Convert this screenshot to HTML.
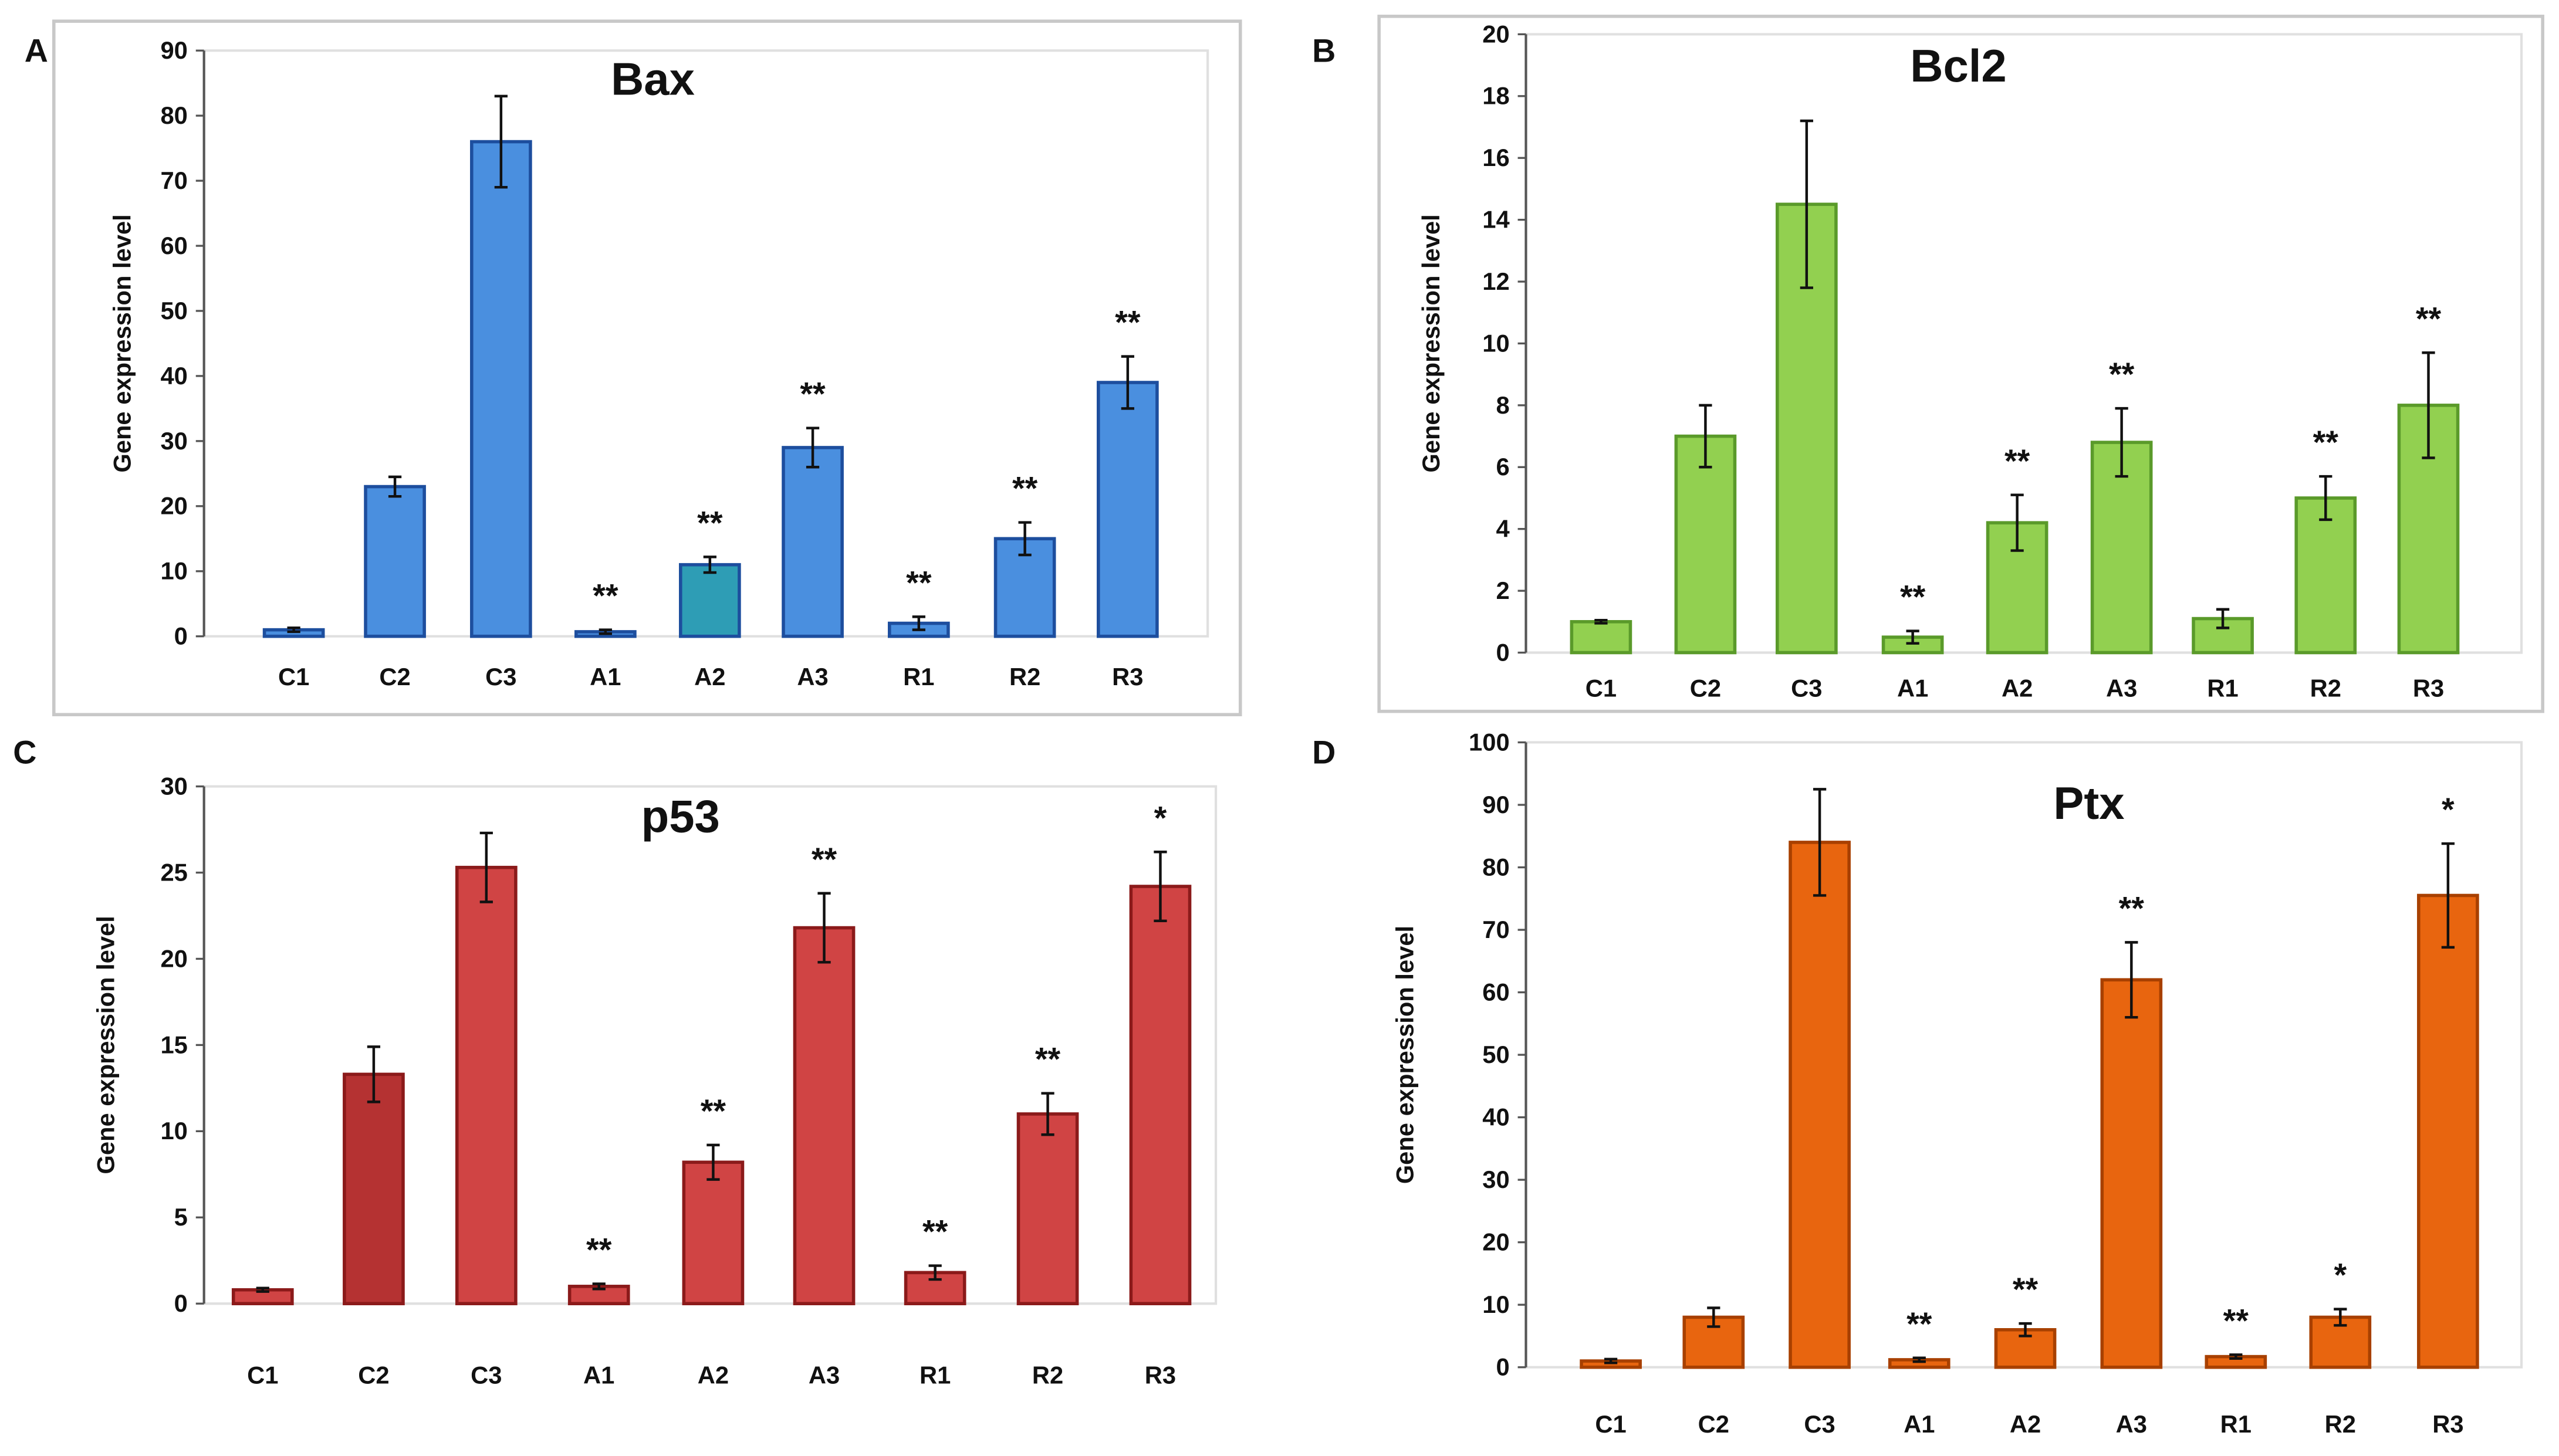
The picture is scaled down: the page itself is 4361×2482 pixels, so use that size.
<!DOCTYPE html>
<html><head><meta charset="utf-8"><style>
html,body{margin:0;padding:0;background:#fff}
svg{display:block}
text{font-family:"Liberation Sans",sans-serif;font-weight:bold;fill:#111}
</style></head><body>
<svg id="fig" width="4361" height="2482" viewBox="0 0 1568 892.4" preserveAspectRatio="none" xmlns="http://www.w3.org/2000/svg">
<rect x="33" y="13" width="727" height="425" fill="none" stroke="#c8c8c8" stroke-width="2"/>
<rect x="845" y="10" width="713" height="426" fill="none" stroke="#c8c8c8" stroke-width="2"/>
</svg>
<script>
const categories = ["C1","C2","C3","A1","A2","A3","R1","R2","R3"];
const baxValues = [1,23,76,0.7,11,29,2,15,39];
const baxErrors = [0.3,1.5,7,0.3,1.2,3,1,2.5,4];
const baxSig = ["","","","**","**","**","**","**","**"];
const bcl2Values = [1,7,14.5,0.5,4.2,6.8,1.1,5,8];
const bcl2Errors = [0.05,1,2.7,0.2,0.9,1.1,0.3,0.7,1.7];
const bcl2Sig = ["","","","**","**","**","","**","**"];
const p53Values = [0.8,13.3,25.3,1,8.2,21.8,1.8,11,24.2];
const p53Errors = [0.1,1.6,2,0.15,1,2,0.4,1.2,2];
const p53Sig = ["","","","**","**","**","**","**","*"];
const ptxValues = [1,8,84,1.2,6,62,1.7,8,75.5];
const ptxErrors = [0.3,1.5,8.5,0.3,1,6,0.3,1.3,8.3];
const ptxSig = ["","","","**","**","**","**","*","*"];
const baxTicks = [0,10,20,30,40,50,60,70,80,90];
const bcl2Ticks = [0,2,4,6,8,10,12,14,16,18,20];
const p53Ticks = [0,5,10,15,20,25,30];
const ptxTicks = [0,10,20,30,40,50,60,70,80,90,100];

const NS="http://www.w3.org/2000/svg";
const svg=document.getElementById('fig');
function mk(tag,attrs,parent){const e=document.createElementNS(NS,tag);for(const k in attrs)e.setAttribute(k,attrs[k]);(parent||svg).appendChild(e);return e;}

const panels=[
 {id:"a",letter:"A",lx:15,ly:38,title:"Bax",tx:400,ty:58,ax:125,right:740,top:31,y0:390,ymax:90,ticks:baxTicks,vals:baxValues,errs:baxErrors,sig:baxSig,
  centers:[180,242,307,371,435,498,563,628,691],labY:420,fill:"#4a8fdf",stroke:"#1d4e9e",special:{4:"#2e9db5"},ytitleX:80},
 {id:"b",letter:"B",lx:804,ly:38,title:"Bcl2",tx:1200,ty:50,ax:935,right:1545,top:21,y0:400,ymax:20,ticks:bcl2Ticks,vals:bcl2Values,errs:bcl2Errors,sig:bcl2Sig,
  centers:[981,1045,1107,1172,1236,1300,1362,1425,1488],labY:427,fill:"#92d050",stroke:"#5a9a2a",special:{},ytitleX:882},
 {id:"c",letter:"C",lx:8,ly:468,title:"p53",tx:417,ty:510,ax:125,right:745,top:482,y0:799,ymax:30,ticks:p53Ticks,vals:p53Values,errs:p53Errors,sig:p53Sig,
  centers:[161,229,298,367,437,505,573,642,711],labY:848,fill:"#d04444",stroke:"#8b1a1a",special:{1:"#b53232"},ytitleX:70},
 {id:"d",letter:"D",lx:804,ly:468,title:"Ptx",tx:1280,ty:502,ax:935,right:1545,top:455,y0:838,ymax:100,ticks:ptxTicks,vals:ptxValues,errs:ptxErrors,sig:ptxSig,
  centers:[987,1050,1115,1176,1241,1306,1370,1434,1500],labY:878,fill:"#e8650f",stroke:"#a84000",special:{},ytitleX:866}
];

panels.forEach(p=>{
 const g=mk('g',{});
 
 
 const y=v=>p.y0-(v/p.ymax)*(p.y0-p.top);
 const bw=36;
 const fr=mk('polyline',{points:`${p.ax},${p.top} ${p.right},${p.top} ${p.right},${p.y0} ${p.ax},${p.y0}`,fill:'none',stroke:'#e0e0e0','stroke-width':1.5},g);
 
 
 const ax=mk('line',{x1:p.ax,y1:p.top,x2:p.ax,y2:p.y0,stroke:'#555','stroke-width':1.5},g);
 
 
 p.ticks.forEach(t=>{
  const ty=y(t);
  const tl=mk('line',{x1:p.ax-5,y1:ty,x2:p.ax,y2:ty,stroke:'#555','stroke-width':1.2},g);
  
  
  const tt=mk('text',{x:p.ax-10,y:ty+5,'text-anchor':'end','font-size':15},g);
  tt.textContent=t;
  
  
 });
 const yt=mk('text',{x:0,y:0,'text-anchor':'middle','font-size':15,transform:`translate(${p.ytitleX},${(p.top+p.y0)/2}) rotate(-90)`},g);
 yt.textContent='Gene expression level';
 
 
 const title=mk('text',{x:p.tx,y:p.ty,'text-anchor':'middle','font-size':28},g);
 title.textContent=p.title;
 
 
 const let_=mk('text',{x:p.lx,y:p.ly,'font-size':20},g);
 let_.textContent=p.letter;
 
 
 categories.forEach((c,i)=>{
  const cx=p.centers[i], v=p.vals[i], e=p.errs[i];
  const r=mk('rect',{x:cx-bw/2,y:y(v),width:bw,height:p.y0-y(v),fill:p.special[i]||p.fill,stroke:p.stroke,'stroke-width':2},g);
  
  
  const eb=mk('path',{d:`M${cx},${y(v+e)}V${y(Math.max(0,v-e))}M${cx-4},${y(v+e)}H${cx+4}M${cx-4},${y(Math.max(0,v-e))}H${cx+4}`,stroke:'#111','stroke-width':1.6,fill:'none'},g);
  
  
  if(p.sig[i]){
   const s=mk('text',{x:cx,y:y(v+e)-14,'text-anchor':'middle','font-size':20},g);
   s.textContent=p.sig[i];
   
   
  }
  const l=mk('text',{x:cx,y:p.labY,'text-anchor':'middle','font-size':15},g);
  l.textContent=c;
  
  
 });
});
</script>
</body></html>
